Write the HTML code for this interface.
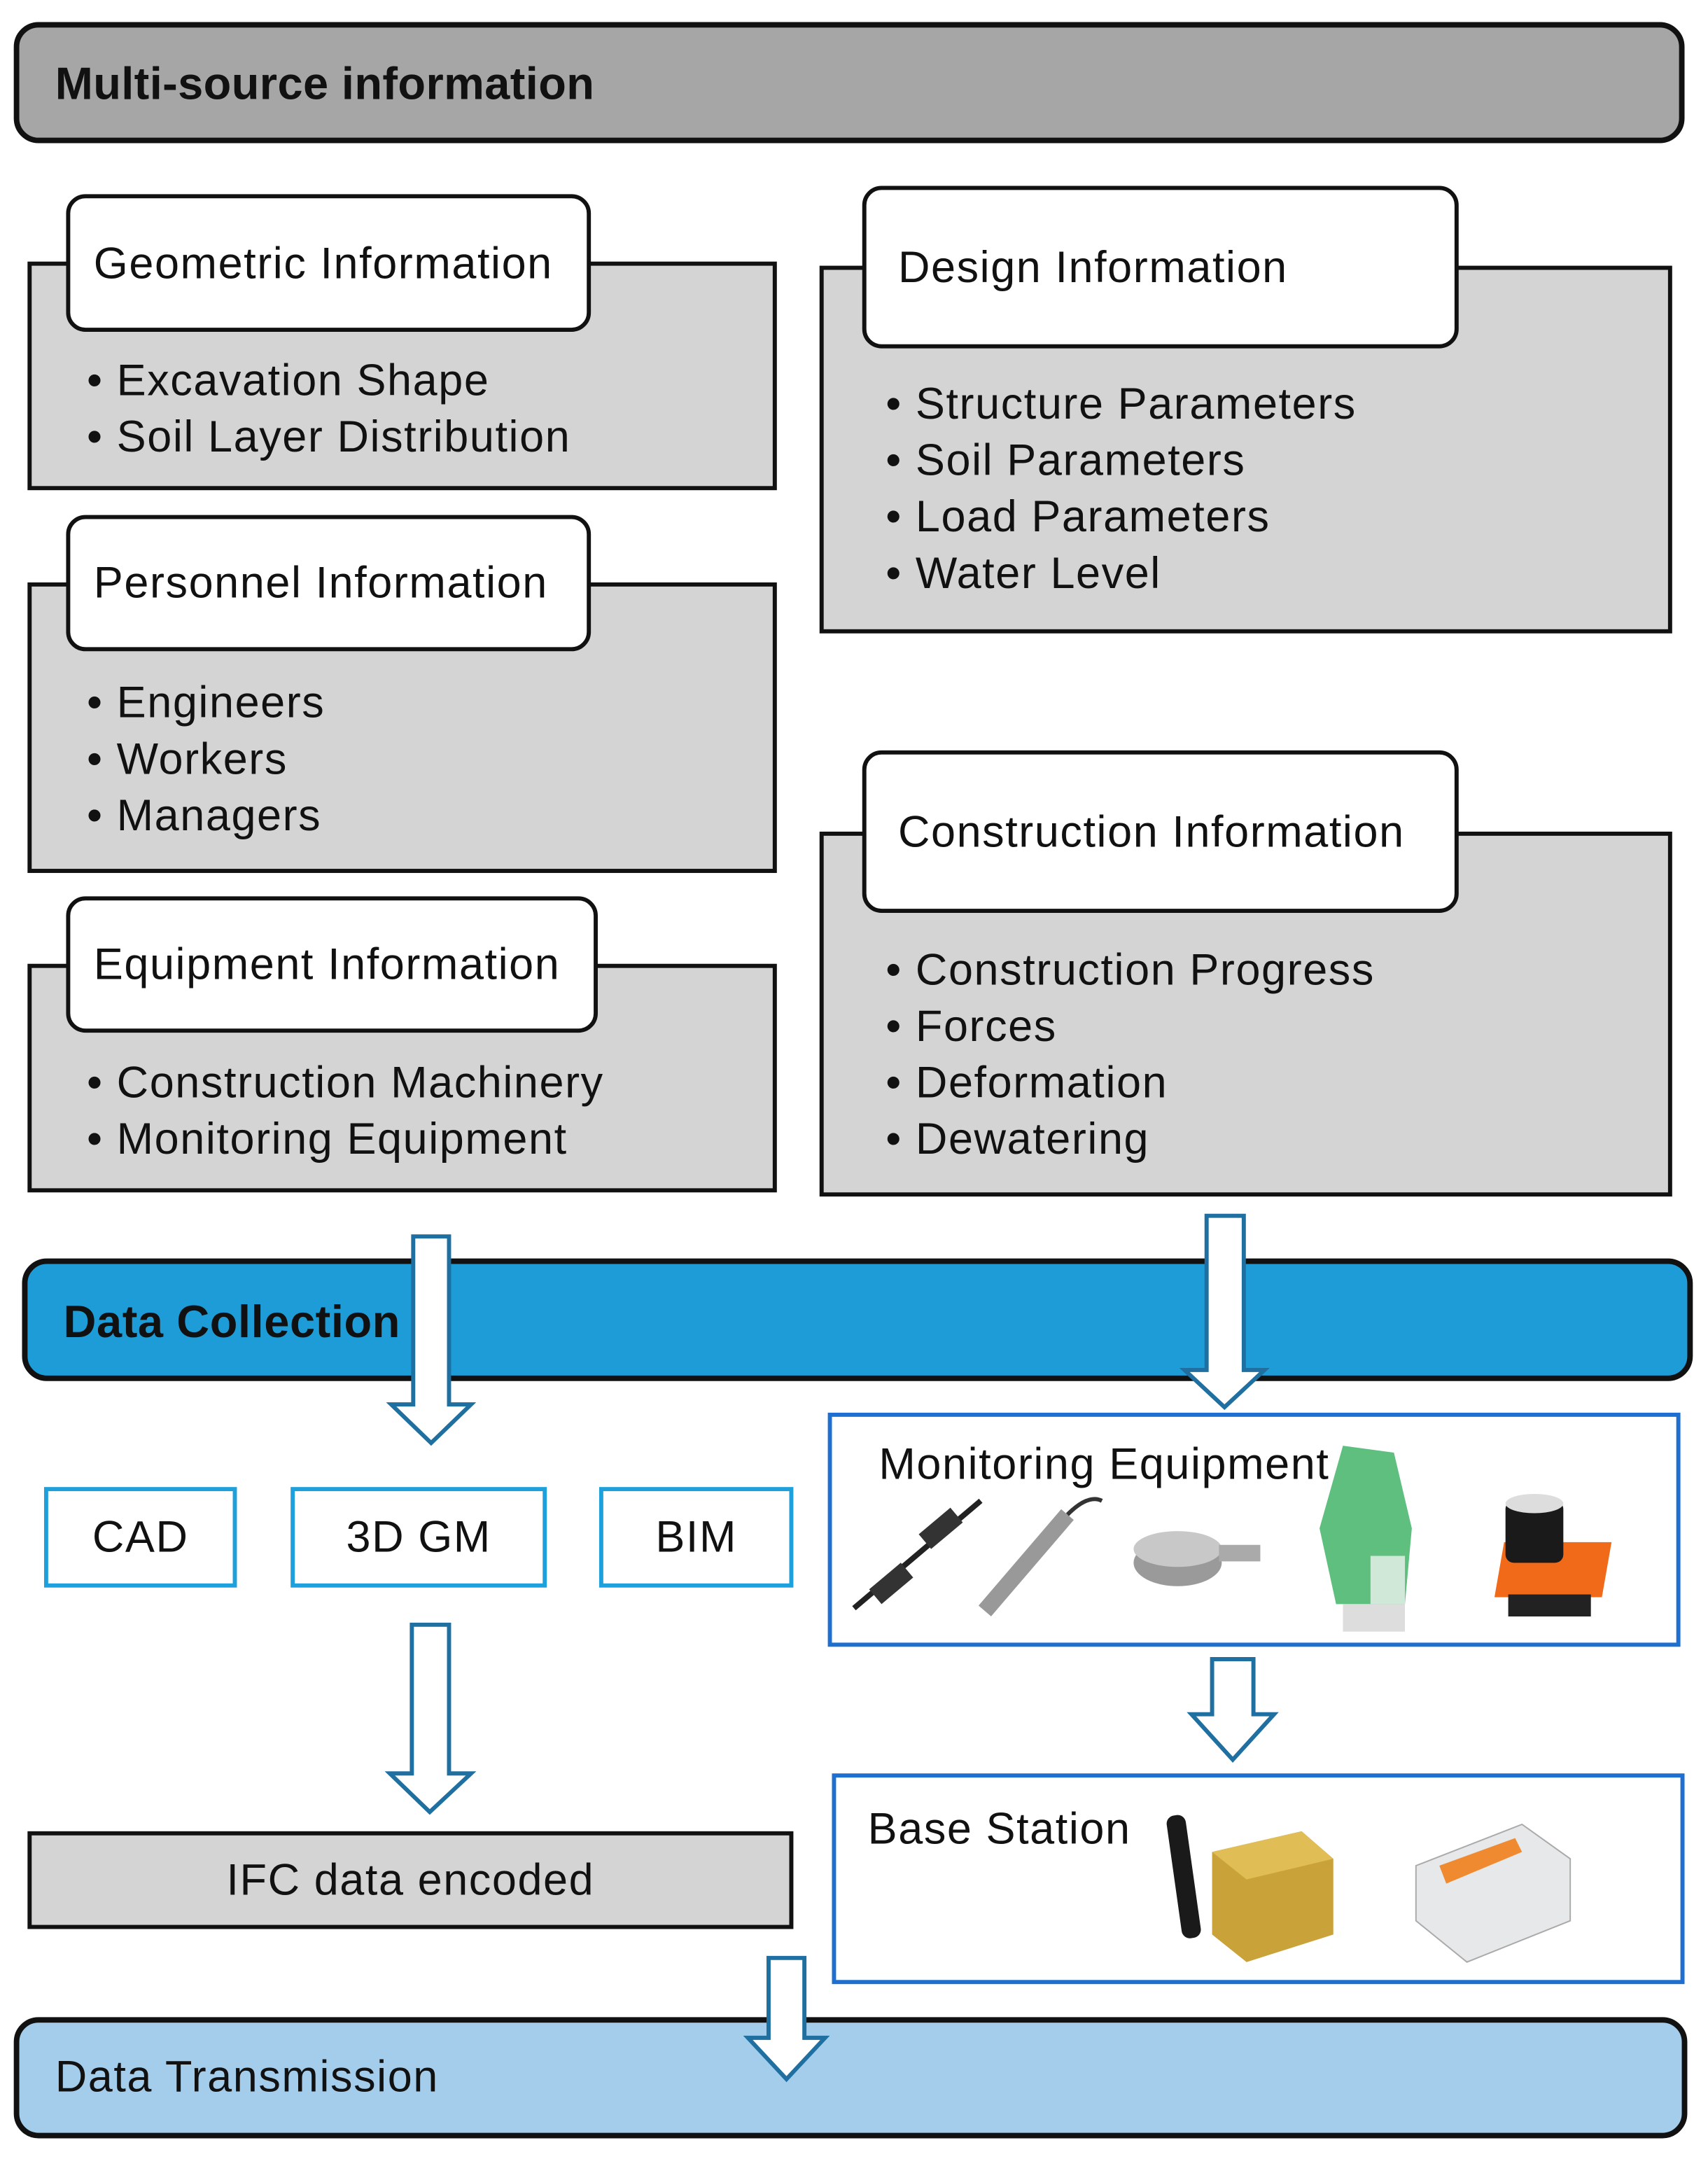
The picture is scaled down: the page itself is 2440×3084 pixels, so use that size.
<!DOCTYPE html>
<html><head><meta charset="utf-8"><style>
html,body{margin:0;padding:0;background:#fff;}
body{width:2440px;height:3084px;overflow:hidden;position:relative;}
#w{position:absolute;left:0;top:0;width:1240px;height:1568px;transform:scale(1.9677,1.9668);transform-origin:0 0;font-family:"Liberation Sans",Arial,sans-serif;color:#111;}
.a{position:absolute;box-sizing:border-box;}
.g{background:#d4d4d4;border:3px solid #111;}
.l{background:#fff;border:3px solid #111;border-radius:14px;font-size:32px;letter-spacing:0.8px;padding-left:17px;display:flex;align-items:center;}
.t{position:absolute;font-size:32px;letter-spacing:0.8px;line-height:41px;white-space:nowrap;}
.bx{background:#fff;border:3px solid #1ea0dc;font-size:32px;letter-spacing:0.8px;display:flex;align-items:center;justify-content:center;}
</style></head><body><div id="w">
<div class="a" style="left:10px;top:16px;width:1213px;height:88px;background:#a6a6a6;border:4px solid #111;border-radius:18px;"></div>
<div class="t" style="left:40px;top:40px;font-weight:bold;font-size:33px;letter-spacing:0.2px;">Multi-source information</div>

<div class="a g" style="left:20px;top:190px;width:544px;height:166px;"></div>
<div class="a l" style="left:48px;top:141px;width:381px;height:100px;">Geometric Information</div>
<div class="t" style="left:63px;top:256px;">• Excavation Shape<br>• Soil Layer Distribution</div>

<div class="a g" style="left:20px;top:423px;width:544px;height:211px;"></div>
<div class="a l" style="left:48px;top:374px;width:381px;height:99px;">Personnel Information</div>
<div class="t" style="left:63px;top:490px;">• Engineers<br>• Workers<br>• Managers</div>

<div class="a g" style="left:20px;top:700px;width:544px;height:166px;"></div>
<div class="a l" style="left:48px;top:651px;width:386px;height:99px;">Equipment Information</div>
<div class="t" style="left:63px;top:766px;">• Construction Machinery<br>• Monitoring Equipment</div>

<div class="a g" style="left:595px;top:193px;width:619px;height:267px;"></div>
<div class="a l" style="left:626px;top:135px;width:433px;height:118px;padding-left:23px;">Design Information</div>
<div class="t" style="left:643px;top:273px;">• Structure Parameters<br>• Soil Parameters<br>• Load Parameters<br>• Water Level</div>

<div class="a g" style="left:595px;top:604px;width:619px;height:265px;"></div>
<div class="a l" style="left:626px;top:545px;width:433px;height:118px;padding-left:23px;">Construction Information</div>
<div class="t" style="left:643px;top:684px;">• Construction Progress<br>• Forces<br>• Deformation<br>• Dewatering</div>

<div class="a" style="left:16px;top:914px;width:1213px;height:89px;background:#1e9cd7;border:4px solid #111;border-radius:18px;"></div>
<div class="t" style="left:46px;top:939px;font-weight:bold;font-size:33px;letter-spacing:0.3px;">Data Collection</div>

<div class="a bx" style="left:32px;top:1080px;width:140px;height:73px;">CAD</div>
<div class="a bx" style="left:211px;top:1080px;width:186px;height:73px;">3D GM</div>
<div class="a bx" style="left:435px;top:1080px;width:141px;height:73px;">BIM</div>

<div class="a g" style="left:20px;top:1330px;width:556px;height:71px;font-size:32px;letter-spacing:0.8px;display:flex;align-items:center;justify-content:center;">IFC data encoded</div>

<div class="a" style="left:601px;top:1026px;width:619px;height:170px;border:3px solid #1e6fd0;background:#fff;"></div>
<div class="t" style="left:638px;top:1043px;">Monitoring Equipment</div>
<div class="a" style="left:604px;top:1288px;width:619px;height:153px;border:3px solid #1e6fd0;background:#fff;"></div>
<div class="t" style="left:630px;top:1308px;">Base Station</div>

<div class="a" style="left:10px;top:1465px;width:1215px;height:88px;background:#a3cdeb;border:4px solid #111;border-radius:18px;"></div>
<div class="t" style="left:40px;top:1488px;">Data Transmission</div>

<svg class="a" style="left:0;top:0" width="1240" height="1568">
<g fill="#fff" stroke="#1f6fa0" stroke-width="3" stroke-linejoin="miter">
<polygon points="300,898 326,898 326,1020 342,1020 313,1048 284,1020 300,1020"/>
<polygon points="876,883 903,883 903,995 918,995 889,1022 860,995 876,995"/>
<polygon points="299,1180 326,1180 326,1288 342,1288 312,1316 283,1288 299,1288"/>
<polygon points="880,1205 910,1205 910,1245 925,1245 895,1278 865,1245 880,1245"/>
<polygon points="558,1422 584,1422 584,1480 599,1480 571,1510 543,1480 558,1480"/>
</g>
<g>
<line x1="620" y1="1168" x2="712" y2="1090" stroke="#222" stroke-width="4"/>
<rect x="640" y="1135" width="14" height="30" fill="#333" transform="rotate(50 647 1150)"/>
<rect x="676" y="1095" width="14" height="30" fill="#333" transform="rotate(50 683 1110)"/>
<line x1="715" y1="1170" x2="775" y2="1100" stroke="#999" stroke-width="12"/>
<path d="M775 1100 Q790 1085 800 1090" stroke="#333" stroke-width="3" fill="none"/>
<ellipse cx="855" cy="1135" rx="32" ry="17" fill="#9a9a9a"/>
<ellipse cx="855" cy="1125" rx="32" ry="13" fill="#c8c8c8"/>
<rect x="885" y="1122" width="30" height="12" fill="#aaa"/>
<polygon points="975,1050 1012,1055 1025,1110 1020,1165 970,1165 958,1110" fill="#5fbf7f"/>
<rect x="995" y="1130" width="25" height="35" fill="#cfe8d8"/>
<rect x="975" y="1165" width="45" height="20" fill="#ddd"/>
<polygon points="1092,1120 1170,1120 1163,1160 1085,1160" fill="#f06a1a"/>
<rect x="1095" y="1158" width="60" height="16" fill="#222"/>
<rect x="1093" y="1090" width="42" height="45" rx="6" fill="#1a1a1a"/>
<ellipse cx="1114" cy="1092" rx="21" ry="7" fill="#ddd"/>
<rect x="852" y="1318" width="14" height="90" rx="6" fill="#1a1a1a" transform="rotate(-8 859 1360)"/>
<polygon points="880,1345 945,1330 968,1350 968,1405 905,1425 880,1405" fill="#c9a23a"/>
<polygon points="880,1345 945,1330 968,1350 905,1365" fill="#e0bd55"/>
<polygon points="1028,1355 1105,1325 1140,1350 1140,1395 1065,1425 1028,1395" fill="#e6e8ea" stroke="#aaa" stroke-width="1"/>
<polygon points="1045,1355 1100,1335 1105,1345 1050,1368" fill="#f08a30"/>
</g>
</svg>
</div></body></html>
